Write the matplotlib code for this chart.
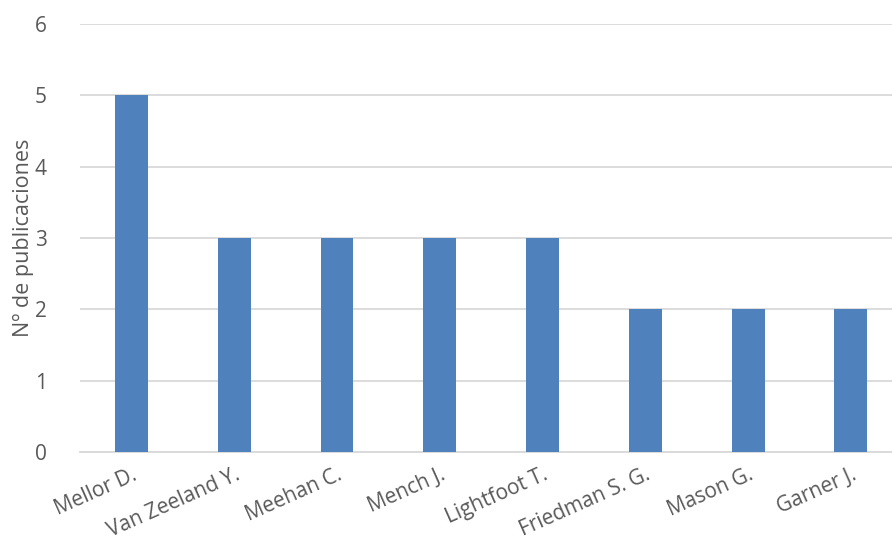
import matplotlib
matplotlib.use("Agg")
import matplotlib.pyplot as plt
import numpy as np

plt.rcParams['font.family'] = ['Open Sans', 'DejaVu Sans']

authors = ['Mellor D.', 'Van Zeeland Y.', 'Meehan C.', 'Mench J.',
           'Lightfoot T.', 'Friedman S. G.', 'Mason G.', 'Garner J.']
publications = [5, 3, 3, 3, 3, 2, 2, 2]

txt = '#595959'
fig = plt.figure(figsize=(8.92, 5.47), dpi=100)
ax = fig.add_axes([80/892, 1 - 452/547, 1 - 80/892, (452 - 24)/547])

xs = np.arange(len(authors))
ax.bar(xs, publications, width=0.32, color='#4F81BD', zorder=3)

ax.set_ylim(0, 6)
ax.set_xlim(-0.5, 7.4)
ax.set_yticks(range(7))
ax.yaxis.grid(True, color='#D9D9D9', linewidth=1.3, zorder=0)
ax.set_axisbelow(True)
for s in ['top', 'right', 'left']:
    ax.spines[s].set_visible(False)
ax.spines['bottom'].set_color('#D9D9D9')
ax.spines['bottom'].set_linewidth(1.3)
ax.tick_params(axis='both', length=0, colors=txt, labelsize=15)
ax.tick_params(axis='y', pad=24)
ax.tick_params(axis='x', pad=9)

ax.set_xticks(xs)
ax.set_xticklabels(authors, rotation=24, ha='right', rotation_mode='anchor')
ax.set_ylabel('Nº de publicaciones', color=txt, fontsize=15.5)
ax.yaxis.set_label_coords(-0.057, 0.5)

fig.savefig('out.png', dpi=100)
